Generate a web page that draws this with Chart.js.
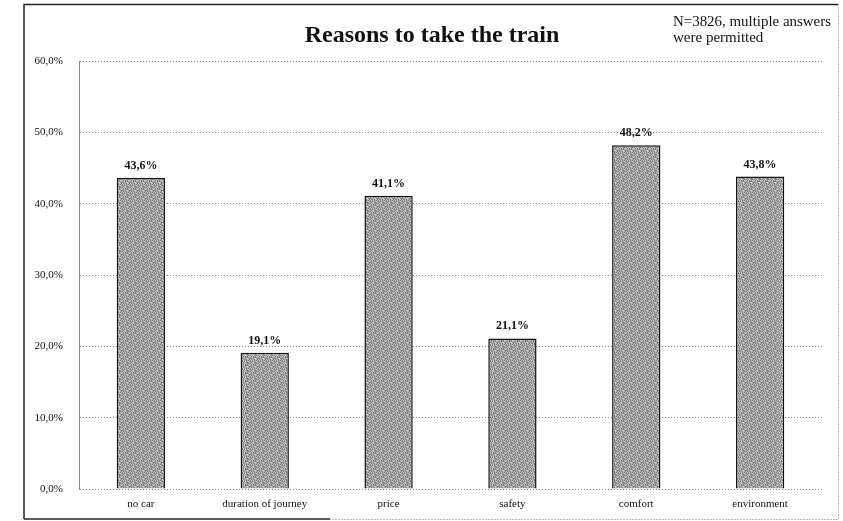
<!DOCTYPE html>
<html>
<head>
<meta charset="utf-8">
<script src="https://cdn.jsdelivr.net/npm/chart.js@4"></script>
<style>
  html, body { margin: 0; padding: 0; background: #fff; }
  #wrap { width: 843px; height: 521px; }
</style>
</head>
<body>
<div id="wrap"><canvas id="grafico" width="843" height="521"></canvas></div>
<script>
const categories = ['no car', 'duration of journey', 'price', 'safety', 'comfort', 'environment']
const shares = [43.6, 19.1, 41.1, 21.1, 48.2, 43.8]
const yTicks = [0, 10, 20, 30, 40, 50, 60]
const chartTitle = 'Reasons to take the train'
const note = ['N=3826, multiple answers', 'were permitted']

const fmt = v => v.toFixed(1).replace('.', ',') + '%'

// speckled grey fill for the bars (fixed 8x8 tile)
function stipple() {
  const tile = [
    '27493816',
    '83162947',
    '49728531',
    '16385974',
    '95817263',
    '38649152',
    '71256489',
    '62934718'
  ]
  const c = document.createElement('canvas')
  c.width = 8; c.height = 8
  const g = c.getContext('2d')
  tile.forEach((row, y) => {
    for (let x = 0; x < 8; x++) {
      const v = 95 + Number(row[x]) * 13
      g.fillStyle = `rgb(${v},${v},${v})`
      g.fillRect(x, y, 1, 1)
    }
  })
  return g.createPattern(c, 'repeat')
}

const ctx = document.getElementById('grafico')
const serif = '"Liberation Serif", "DejaVu Serif", serif'

const decor = {
  id: 'decor',
  beforeDraw(chart) {
    const g = chart.ctx
    g.save()
    g.fillStyle = '#fff'
    g.fillRect(0, 0, chart.width, chart.height)
    // frame
    g.strokeStyle = '#222'
    g.lineWidth = 1.5
    g.beginPath()
    g.moveTo(24, 519); g.lineTo(24, 4.5); g.lineTo(838, 4.5)
    g.stroke()
    g.beginPath()
    g.moveTo(24, 519); g.lineTo(330, 519)
    g.stroke()
    g.strokeStyle = '#777'
    g.lineWidth = 1
    g.setLineDash([1, 2])
    g.beginPath()
    g.moveTo(838.5, 4.5); g.lineTo(838.5, 519.5); g.lineTo(330, 519.5)
    g.stroke()
    g.setLineDash([])
    g.restore()
  },
  afterDraw(chart) {
    const g = chart.ctx
    g.save()
    g.fillStyle = '#111'
    g.textAlign = 'center'
    g.textBaseline = 'alphabetic'
    g.font = 'bold 24px ' + serif
    g.fillText(chartTitle, 432, 42)
    g.textAlign = 'left'
    g.font = '15px ' + serif
    g.fillText(note[0], 673, 26, 158)
    g.fillText(note[1], 673, 42, 158)
    // value labels
    g.textAlign = 'center'
    g.font = 'bold 12px ' + serif
    const meta = chart.getDatasetMeta(0)
    meta.data.forEach((bar, i) => {
      g.fillText(fmt(shares[i]), bar.x, bar.y - 9)
    })
    g.restore()
  }
}

new Chart(ctx, {
  type: 'bar',
  data: {
    labels: categories,
    datasets: [{
      data: shares,
      backgroundColor: stipple(),
      borderColor: '#111',
      borderWidth: 1.5,
      barPercentage: 0.39,
      categoryPercentage: 1
    }]
  },
  options: {
    responsive: false,
    animation: false,
    layout: { padding: { left: 25, right: 21, top: 61, bottom: 0 } },
    plugins: {
      legend: { display: false },
      tooltip: { enabled: false }
    },
    scales: {
      x: {
        grid: { display: false, drawTicks: false },
        border: { display: false },
        ticks: { color: '#111', font: { family: serif, size: 11 }, padding: 9, maxRotation: 0 },
        afterFit(s) { s.height = 32 }
      },
      y: {
        min: 0,
        max: 60,
        afterBuildTicks(s) { s.ticks = yTicks.map(v => ({ value: v })) },
        afterFit(s) { s.width = 54 },
        grid: { color: '#888', lineWidth: 1, drawTicks: false, tickLength: 0 },
        border: { display: true, color: '#888', dash: [1, 2] },
        ticks: {
          color: '#111',
          padding: 16,
          font: { family: serif, size: 11 },
          callback: v => fmt(v)
        }
      }
    }
  },
  plugins: [decor]
})
</script>
</body>
</html>
